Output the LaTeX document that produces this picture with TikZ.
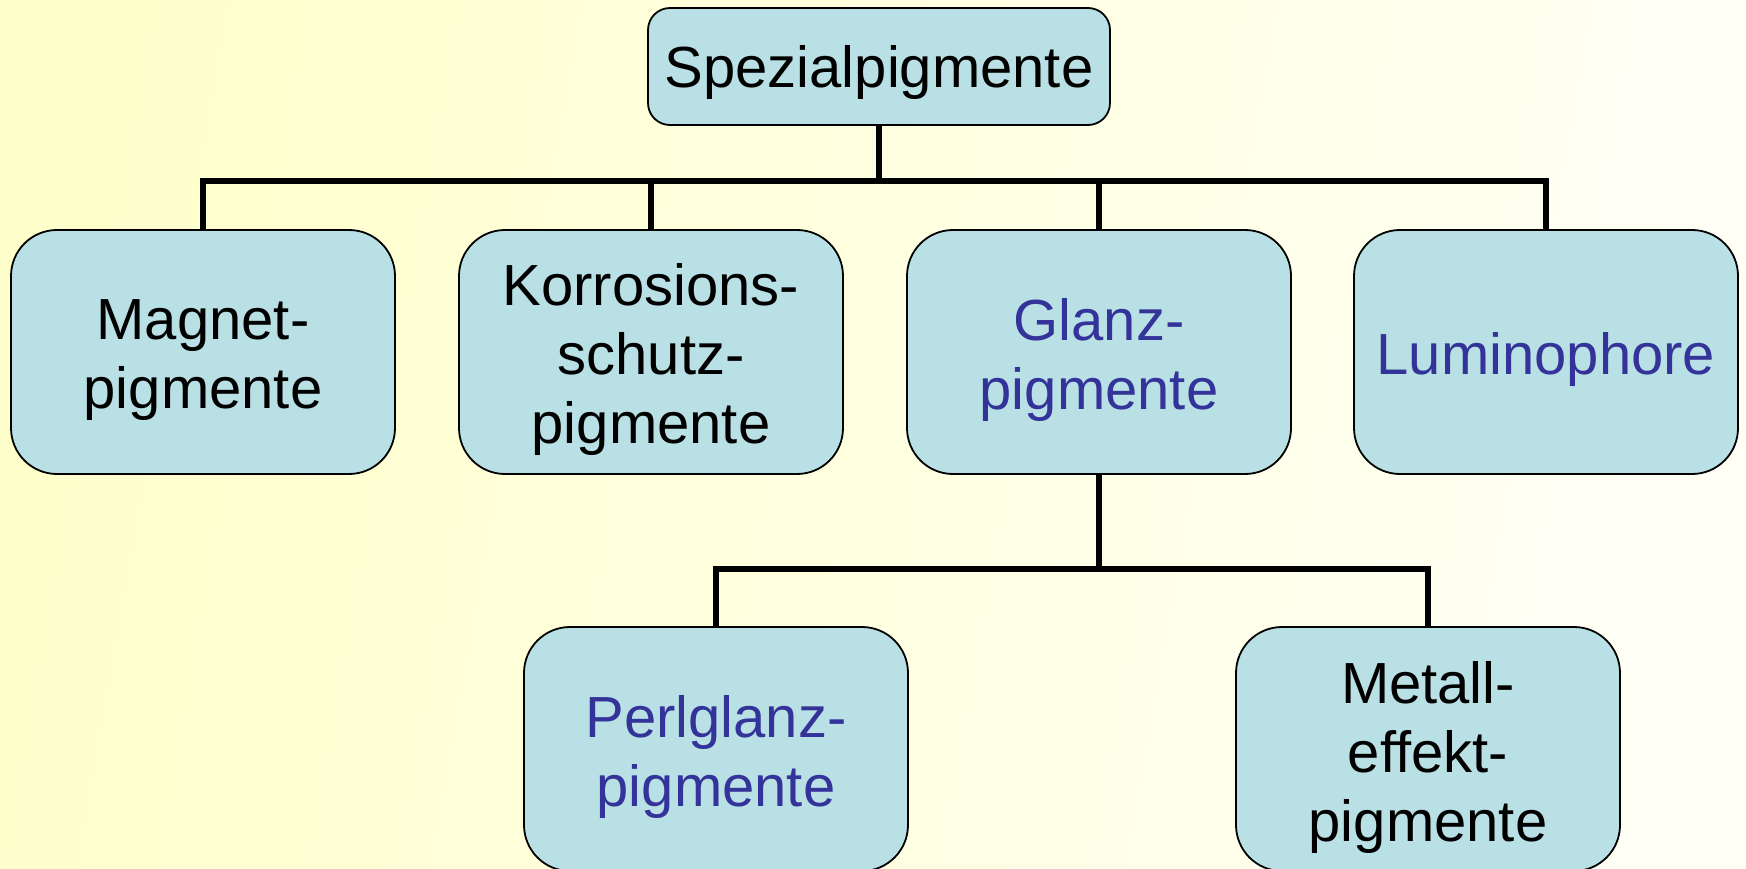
\documentclass[tikz,border=0pt]{standalone}
\usepackage{fontspec}
\setmainfont{Liberation Sans}
\definecolor{boxfill}{RGB}{185,224,228}
\definecolor{txtblue}{RGB}{51,51,153}
\definecolor{bgleft}{RGB}{255,255,204}
\definecolor{bgmid}{RGB}{255,255,228}
\definecolor{bgright}{RGB}{255,255,246}
\tikzset{
  pbox/.style={draw=black, line width=1.8pt, fill=boxfill, rounded corners=46pt,
    minimum width=384pt, minimum height=244pt, inner sep=0pt},
  ptext/.style={align=center, inner sep=0pt, font=\fontsize{58}{69}\selectfont},
  conn/.style={line width=6pt, line cap=butt},
}
\begin{document}
\begin{tikzpicture}[x=1pt,y=-1pt]
\useasboundingbox (0,0) rectangle (1746,869);
\shade[left color=bgleft, middle color=bgmid, right color=bgright, shading angle=80] (0,0) rectangle (1746,869);
\begin{scope}
\clip (0,0) rectangle (1746,869);
\node[pbox, minimum width=462pt, minimum height=117pt, rounded corners=22pt] (top) at (879,66.5) {};
\node[pbox] (mag) at (203,352) {};
\node[pbox] (kor) at (651,352) {};
\node[pbox] (gla) at (1099,352) {};
\node[pbox] (lum) at (1546,352) {};
\node[pbox] (per) at (716,749) {};
\node[pbox] (met) at (1428,749) {};
\node[ptext] (topt) at ([yshift=-6pt]top.center) {Spezialpigmente};
\node[ptext] (magt) at ([yshift=-8pt]mag.center) {Magnet-\\pigmente};
\node[ptext] (kort) at ([yshift=-8pt]kor.center) {Korrosions-\\schutz-\\pigmente};
\node[ptext, text=txtblue] (glat) at ([yshift=-8pt]gla.center) {Glanz-\\pigmente};
\node[ptext, text=txtblue] (lumt) at ([yshift=-8pt]lum.center) {Luminophore};
\node[ptext, text=txtblue] (pert) at ([yshift=-8pt]per.center) {Perlglanz-\\pigmente};
\node[ptext] (mett) at ([yshift=-8pt]met.center) {Metall-\\effekt-\\pigmente};
\coordinate (b1) at (879,181);
\coordinate (b2) at (1099,569);
\draw[conn] (top.south) -- (b1);
\draw[conn] (b1) -| (mag.north);
\draw[conn] (b1) -| (kor.north);
\draw[conn] (b1) -| (gla.north);
\draw[conn] (b1) -| (lum.north);
\draw[conn] (gla.south) -- (b2);
\draw[conn] (b2) -| (per.north);
\draw[conn] (b2) -| (met.north);
\end{scope}
\end{tikzpicture}
\end{document}
